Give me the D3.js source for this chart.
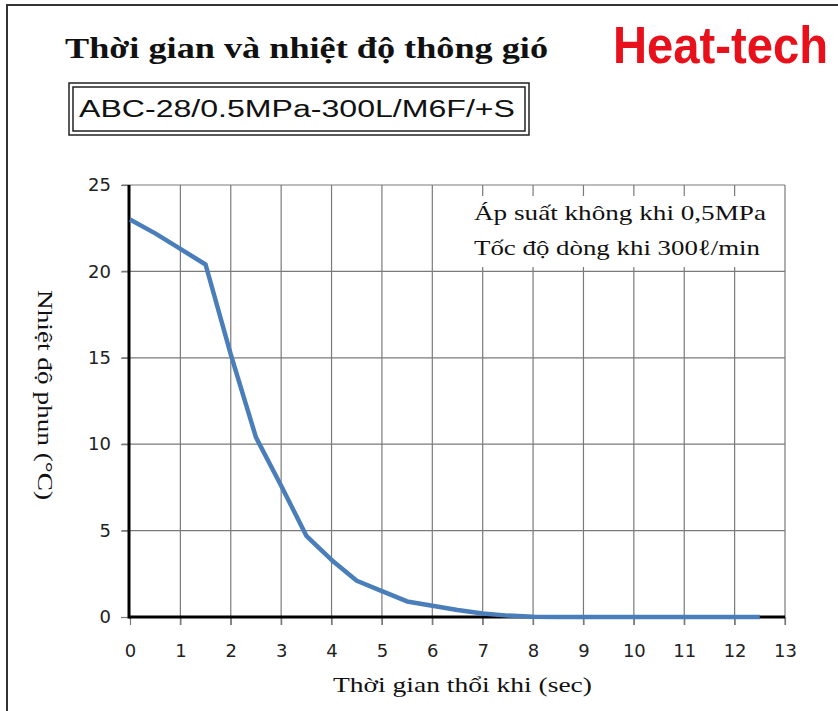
<!DOCTYPE html>
<html>
<head>
<meta charset="utf-8">
<script src="https://cdn.jsdelivr.net/npm/d3@7"></script>
<style>
  body { margin: 0; background: #fff; }
  svg { display: block; }
</style>
</head>
<body>
<div id="chart"></div>
<script>
// data
const times = [0, 0.5, 1, 1.5, 2, 2.5, 3, 3.5, 4, 4.5, 5, 5.5, 6, 6.5, 7, 7.5, 8, 8.5, 9, 9.5, 10, 10.5, 11, 11.5, 12, 12.5];
const temps = [23, 22.2, 21.3, 20.4, 15.2, 10.4, 7.6, 4.7, 3.3, 2.1, 1.5, 0.9, 0.65, 0.4, 0.2, 0.08, 0.02, 0, 0, 0, 0, 0, 0, 0, 0, 0];
const xTicks = [0, 1, 2, 3, 4, 5, 6, 7, 8, 9, 10, 11, 12, 13];
const yTicks = [0, 5, 10, 15, 20, 25];

const title = "Thời gian và nhiệt độ thông gió";
const brand = "Heat-tech";
const model = "ABC-28/0.5MPa-300L/M6F/+S";
const notes = ["Áp suất không khi 0,5MPa", "Tốc độ dòng khi 300ℓ/min"];
const xTitle = "Thời gian thổi khi  (sec)";
const yTitle = "Nhiệt độ phun (°C)";

const width = 838;
const height = 711;
const serif = "'Liberation Serif', 'Times New Roman', serif";

const svg = d3.select("#chart")
    .append("svg")
    .attr("width", width)
    .attr("height", height);

// outer frame (runs off right and bottom edge)
svg.append("rect")
   .attr("x", 7)
   .attr("y", 5)
   .attr("width", 900)
   .attr("height", 800)
   .attr("fill", "#fff")
   .attr("stroke", "#333")
   .attr("stroke-width", 2);

const x = d3.scaleLinear().domain([0, 13]).range([130, 785]);
const y = d3.scaleLinear().domain([0, 25]).range([617, 185]);

// grid
svg.append("g")
   .selectAll("line")
   .data(xTicks.slice(1))
   .enter()
   .append("line")
   .attr("x1", d => x(d)).attr("x2", d => x(d))
   .attr("y1", y(25)).attr("y2", y(0) + 8)
   .attr("stroke", "#7a7a7a")
   .attr("stroke-width", 1.2);

svg.append("g")
   .selectAll("line")
   .data(yTicks.slice(1))
   .enter()
   .append("line")
   .attr("x1", x(0) - 8).attr("x2", x(13))
   .attr("y1", d => y(d)).attr("y2", d => y(d))
   .attr("stroke", "#7a7a7a")
   .attr("stroke-width", 1.2);

// note box covers the grid
svg.append("rect")
   .attr("x", 462)
   .attr("y", 196)
   .attr("width", 314)
   .attr("height", 71)
   .attr("fill", "#fff");

const noteWidths = [292, 286];
svg.append("g")
   .selectAll("text")
   .data(notes)
   .enter()
   .append("text")
   .attr("x", 474)
   .attr("y", (d, i) => 220 + i * 35)
   .attr("font-family", serif)
   .attr("font-size", 22)
   .attr("textLength", (d, i) => noteWidths[i])
   .attr("lengthAdjust", "spacingAndGlyphs")
   .attr("fill", "#111")
   .text(d => d);

// axes
const xAxis = d3.axisBottom(x).tickValues(xTicks).tickSize(8).tickFormat(d3.format("d"));
const yAxis = d3.axisLeft(y).tickValues(yTicks).tickSize(8).tickFormat(d3.format("d"));

const gx = svg.append("g").attr("transform", `translate(0,${y(0)})`).call(xAxis);
const gy = svg.append("g").attr("transform", `translate(${x(0) - 1},0)`).call(yAxis);

[gx, gy].forEach(g => {
  g.select(".domain").remove();
  g.selectAll(".tick line").attr("stroke", "#7a7a7a").attr("stroke-width", 1.2);
  g.selectAll(".tick text")
   .attr("font-family", "'DejaVu Sans', Verdana, sans-serif")
   .attr("font-size", 18)
   .attr("fill", "#222");
});
gx.selectAll(".tick text").attr("dy", "1.6em");
gy.selectAll(".tick text").attr("x", -18);

svg.append("line")
   .attr("x1", x(0) - 1).attr("x2", x(13))
   .attr("y1", y(0)).attr("y2", y(0))
   .attr("stroke", "#000")
   .attr("stroke-width", 3);

svg.append("line")
   .attr("x1", x(0) - 1).attr("x2", x(0) - 1)
   .attr("y1", y(25)).attr("y2", y(0) + 1.5)
   .attr("stroke", "#000")
   .attr("stroke-width", 3);

// series
const line = d3.line()
    .x((d, i) => x(times[i]))
    .y(d => y(d));

svg.append("path")
   .datum(temps)
   .attr("d", line)
   .attr("fill", "none")
   .attr("stroke", "#4a7ebb")
   .attr("stroke-width", 4.5)
   .attr("stroke-linejoin", "round");

// titles
svg.append("text")
   .attr("x", 65)
   .attr("y", 58)
   .attr("font-family", serif)
   .attr("font-weight", "bold")
   .attr("font-size", 29)
   .attr("textLength", 483)
   .attr("lengthAdjust", "spacingAndGlyphs")
   .attr("fill", "#111")
   .text(title);

svg.append("text")
   .attr("x", 613)
   .attr("y", 63)
   .attr("font-family", "'Liberation Sans Narrow', 'Liberation Sans', Arial, sans-serif")
   .attr("font-weight", "bold")
   .attr("font-size", 52)
   .attr("textLength", 215)
   .attr("lengthAdjust", "spacingAndGlyphs")
   .attr("fill", "#e8101a")
   .text(brand);

// model box with double border
svg.append("rect")
   .attr("x", 69).attr("y", 83)
   .attr("width", 460).attr("height", 52)
   .attr("fill", "#fff")
   .attr("stroke", "#222")
   .attr("stroke-width", 1.5);
svg.append("rect")
   .attr("x", 73).attr("y", 87)
   .attr("width", 452).attr("height", 44)
   .attr("fill", "none")
   .attr("stroke", "#222")
   .attr("stroke-width", 1.5);
svg.append("text")
   .attr("x", 79)
   .attr("y", 117)
   .attr("font-family", "'Liberation Sans', Arial, sans-serif")
   .attr("font-size", 23)
   .attr("textLength", 436)
   .attr("lengthAdjust", "spacingAndGlyphs")
   .attr("fill", "#111")
   .text(model);

svg.append("text")
   .attr("x", 333)
   .attr("y", 692)
   .attr("font-family", serif)
   .attr("font-size", 22)
   .attr("textLength", 259)
   .attr("lengthAdjust", "spacingAndGlyphs")
   .attr("fill", "#111")
   .text(xTitle);

svg.append("text")
   .attr("transform", "translate(38,290) rotate(90)")
   .attr("font-family", serif)
   .attr("font-size", 22)
   .attr("textLength", 210)
   .attr("lengthAdjust", "spacingAndGlyphs")
   .attr("fill", "#111")
   .text(yTitle);
</script>
</body>
</html>
